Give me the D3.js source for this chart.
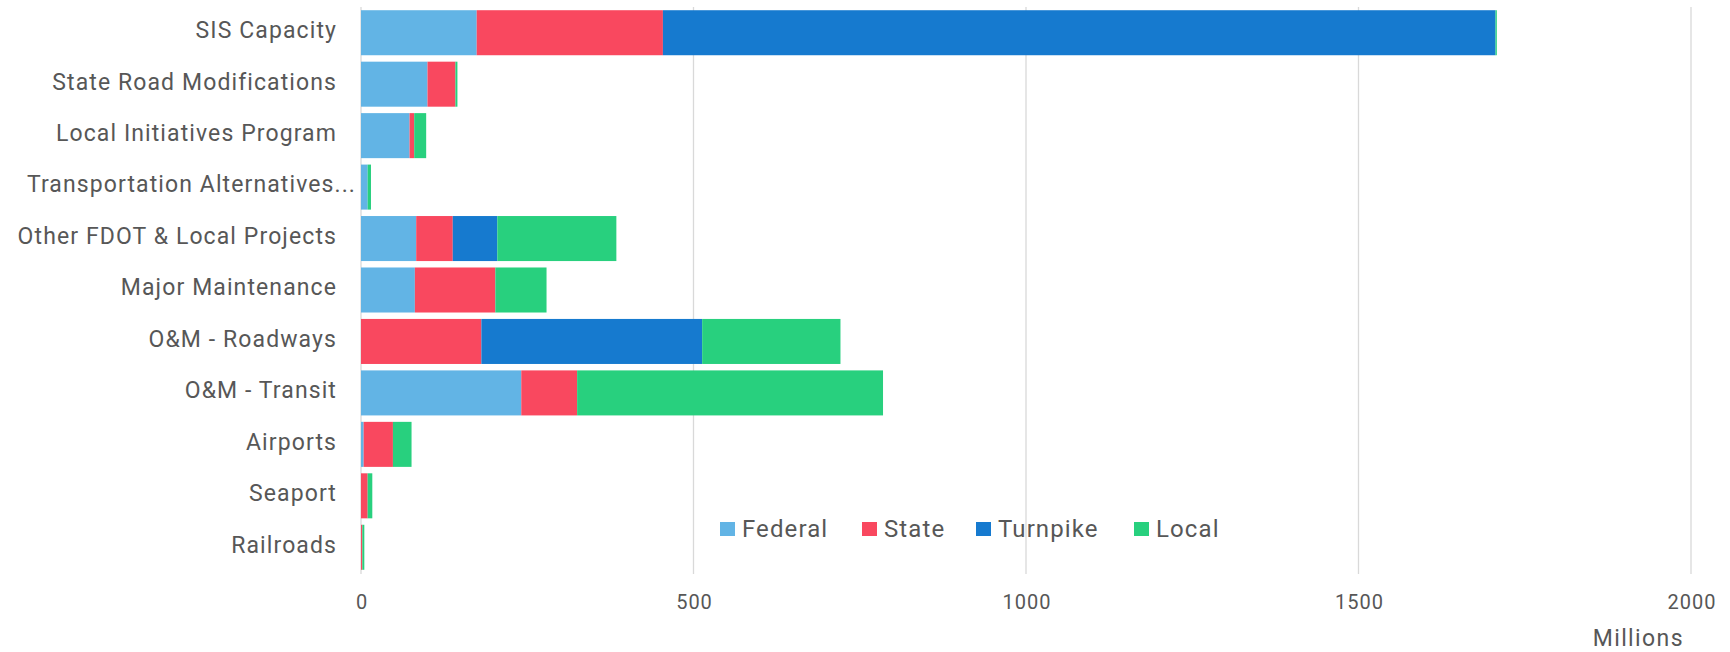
<!DOCTYPE html>
<html>
<head>
<meta charset="utf-8">
<script src="https://cdn.jsdelivr.net/npm/d3@7"></script>
<style>
  html, body { margin: 0; padding: 0; background: #fff; }
  svg { display: block; }
  text { font-family: Roboto, "Noto Sans", sans-serif; }
</style>
</head>
<body>
<svg id="chart" width="1730" height="652"></svg>
<script>
const categories = ["SIS Capacity", "State Road Modifications", "Local Initiatives Program",
  "Transportation Alternatives...", "Other FDOT & Local Projects", "Major Maintenance",
  "O&M - Roadways", "O&M - Transit", "Airports", "Seaport", "Railroads"];
const seriesNames = ["Federal", "State", "Turnpike", "Local"];
const federal  = [174, 100, 73, 10, 83, 81, 0, 241, 4, 0, 0];
const state    = [280, 42, 7, 0, 55, 121, 181, 84, 44, 10, 2];
const turnpike = [1252, 0, 0, 0, 67, 0, 332, 0, 0, 0, 0];
const local    = [2, 3, 18, 5, 179, 77, 208, 460, 28, 7, 3];
const xTicks = [0, 500, 1000, 1500, 2000];
const colors = ["#62B4E5", "#F9485F", "#167ACF", "#28D07E"];

const rows = categories.map((c, i) => ({
  cat: c, Federal: federal[i], State: state[i], Turnpike: turnpike[i], Local: local[i]
}));

const textColor = "#575757";
const svg = d3.select("#chart");
const x = d3.scaleLinear().domain([0, 2000]).range([361, 1691]);
const y = d3.scaleBand().domain(categories).range([7, 573]).paddingInner(0.125).paddingOuter(0.0625);
const color = d3.scaleOrdinal().domain(seriesNames).range(colors);

// gridlines
svg.append("g").selectAll("line").data(xTicks).join("line")
  .attr("x1", d => x(d)).attr("x2", d => x(d))
  .attr("y1", 7).attr("y2", 574)
  .attr("stroke", "#d9d9d9").attr("stroke-width", 1.3);

// stacked bars
const stack = d3.stack().keys(seriesNames)(rows);
svg.append("g").selectAll("g").data(stack).join("g")
  .attr("fill", d => color(d.key))
  .selectAll("rect").data(d => d).join("rect")
  .attr("x", d => x(d[0]))
  .attr("width", d => Math.max(0, x(d[1]) - x(d[0])))
  .attr("y", d => y(d.data.cat))
  .attr("height", y.bandwidth());

// x axis labels
const xAxis = d3.axisBottom(x).tickValues(xTicks).tickSize(0).tickPadding(0).tickFormat(d3.format("d"));
const gx = svg.append("g").attr("transform", "translate(0.5,595)").call(xAxis);
gx.select(".domain").remove();
gx.selectAll("text").attr("font-size", 20).attr("fill", textColor)
  .style("font-family", "Roboto, sans-serif").style("letter-spacing", "1px");

// y axis labels
const yAxis = d3.axisLeft(y).tickSize(0).tickPadding(0);
const gy = svg.append("g").attr("transform", "translate(337,-2)").call(yAxis);
gy.select(".domain").remove();
gy.selectAll("text").attr("font-size", 23).attr("fill", textColor)
  .style("font-family", "Roboto, sans-serif").style("letter-spacing", "1.1px")
  .attr("x", d => d.endsWith("...") ? 19 : 0);

// axis title
svg.append("text").attr("x", 1684).attr("y", 646).attr("text-anchor", "end")
  .attr("font-size", 23).attr("fill", textColor).style("letter-spacing", "1.4px").text("Millions");

// legend
const legendX = [720, 862, 976, 1134];
const lg = svg.append("g").selectAll("g").data(seriesNames).join("g")
  .attr("transform", (d, i) => `translate(${legendX[i]},529)`);
lg.append("rect").attr("x", 0).attr("y", -7).attr("width", 15).attr("height", 14)
  .attr("fill", d => color(d));
lg.append("text").attr("x", 22).attr("y", 0).attr("dy", "0.35em")
  .attr("font-size", 24).attr("fill", textColor).style("letter-spacing", "1.1px").text(d => d);
</script>
</body>
</html>
